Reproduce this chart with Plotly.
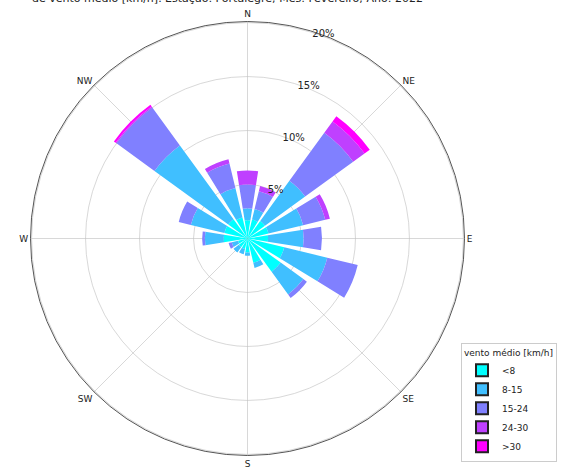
import plotly.graph_objects as go

# Wind directions (16-point compass) and speed classes
directions = ["N", "NNE", "NE", "ENE", "E", "ESE", "SE", "SSE",
              "S", "SSW", "SW", "WSW", "W", "WNW", "NW", "NNW"]
bearings = [0, 22.5, 45, 67.5, 90, 112.5, 135, 157.5,
            180, 202.5, 225, 247.5, 270, 292.5, 315, 337.5]
speed_classes = ["<8", "8-15", "15-24", "24-30", ">30"]
class_colors = ["#00ffff", "#40bfff", "#8080ff", "#bf40ff", "#ff00ff"]

# Frequency (%) of each speed class per direction
freq_lt8 = [1.7, 1.8, 2.0, 2.0, 1.9, 3.5, 3.8, 2.3, 1.3, 1.0, 1.0, 0.9, 2.2, 2.2, 2.2, 2.0]
freq_8_15 = [1.1, 1.0, 4.6, 3.3, 3.3, 4.1, 2.6, 0.5, 0.3, 0.5, 0.6, 0.6, 1.75, 3.2, 8.45, 2.8]
freq_15_24 = [2.2, 1.7, 5.5, 2.1, 1.7, 2.9, 0.4, 0.0, 0.0, 0.0, 0.0, 0.3, 0.25, 1.15, 4.35, 2.35]
freq_24_30 = [1.3, 0.5, 1.3, 0.45, 0.0, 0.0, 0.0, 0.0, 0.0, 0.0, 0.0, 0.0, 0.0, 0.0, 0.1, 0.4]
freq_gt30 = [0.0, 0.0, 0.6, 0.0, 0.0, 0.0, 0.0, 0.0, 0.0, 0.0, 0.0, 0.0, 0.0, 0.0, 0.2, 0.0]
class_freqs = [freq_lt8, freq_8_15, freq_15_24, freq_24_30, freq_gt30]

radial_ticks = [5, 10, 15, 20]
radial_labels = ["5%", "10%", "15%", "20%"]
compass_ticks = [0, 45, 90, 135, 180, 225, 270, 315]
compass_labels = ["N", "NE", "E", "SE", "S", "SW", "W", "NW"]

fig = go.Figure()
for name, color, freqs in zip(speed_classes, class_colors, class_freqs):
    fig.add_trace(go.Barpolar(
        r=freqs, theta=bearings, width=[18] * len(bearings),
        name=name, marker=dict(color=color, line=dict(width=0)),
        showlegend=False,
    ))
# legend swatches with dark outline
for name, color in zip(speed_classes, class_colors):
    fig.add_trace(go.Barpolar(
        r=[None], theta=[0], name=name,
        marker=dict(color=color, line=dict(color="#222222", width=1)),
    ))

W, H = 568, 467
cx, cy, R = 247.5, 238.5, 217
axis_angle = 74
fig.update_layout(
    width=W, height=H,
    margin=dict(l=0, r=0, t=0, b=0, autoexpand=False),
    paper_bgcolor="white",
    font=dict(family="DejaVu Sans", color="#222222"),
    polar=dict(
        domain=dict(x=[(cx - R) / W, (cx + R) / W],
                    y=[(H - cy - R) / H, (H - cy + R) / H]),
        bgcolor="white",
        barmode="stack",
        radialaxis=dict(
            range=[0, 20.1], tickvals=radial_ticks, ticktext=radial_labels,
            angle=axis_angle, tickangle=axis_angle, showline=False, ticks="",
            gridcolor="rgba(190,190,190,0.6)", gridwidth=1,
            tickfont=dict(size=10, color="#222222"),
            layer="above traces",
        ),
        angularaxis=dict(
            rotation=90, direction="clockwise",
            tickvals=compass_ticks, ticktext=compass_labels, ticks="",
            gridcolor="rgba(190,190,190,0.6)", gridwidth=1,
            linecolor="#555555", linewidth=1,
            tickfont=dict(size=9, color="#222222"),
            layer="above traces",
        ),
    ),
    legend=dict(
        title=dict(text="vento médio [km/h]", font=dict(size=9)),
        font=dict(size=9),
        x=461 / W, y=1 - 462 / H, xanchor="left", yanchor="bottom",
        bordercolor="#cccccc", borderwidth=1, bgcolor="white",
        itemsizing="constant", tracegroupgap=0,
    ),
    annotations=[dict(
        text="de vento médio [km/h]. Estação: Portalegre; Mês: Fevereiro; Ano: 2022",
        x=227 / W, y=1 + 1 / H, xref="paper", yref="paper",
        xanchor="center", yanchor="middle", showarrow=False,
        font=dict(size=11, color="#222222"),
    )],
)

fig.write_html("out.html")
